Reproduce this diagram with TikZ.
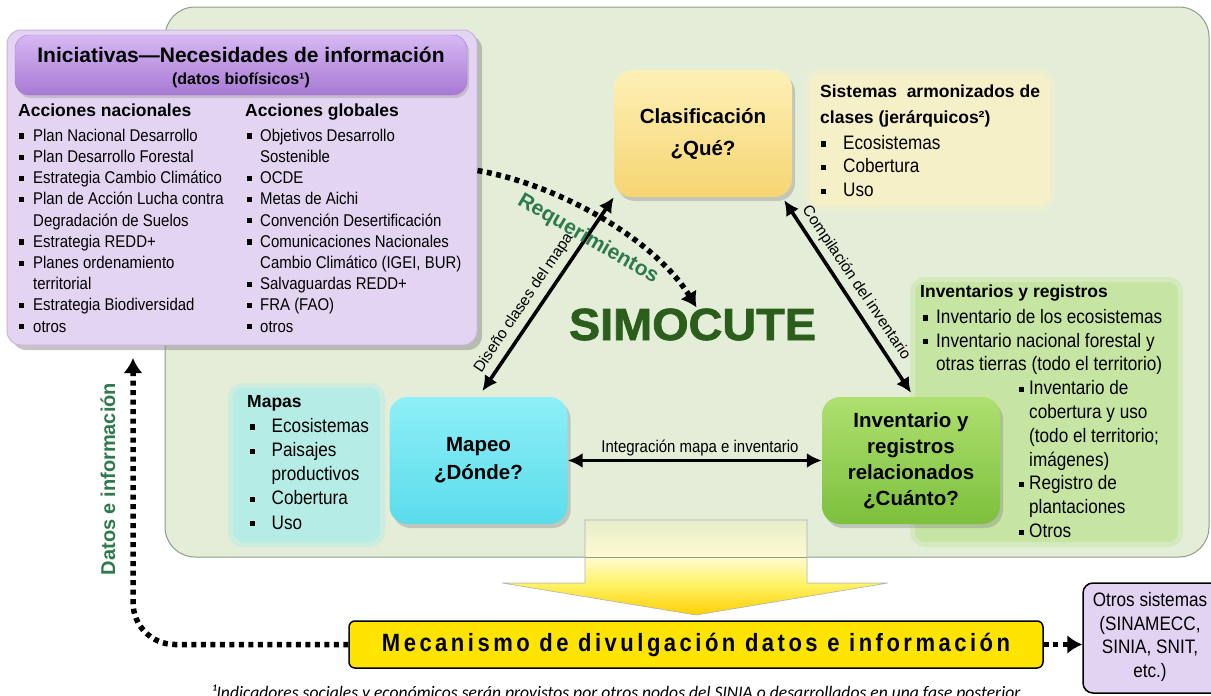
\documentclass[tikz,border=0pt]{standalone}
\usepackage{fontspec}
\setmainfont{Liberation Sans}
\newfontfamily\nar[FakeStretch=0.88]{Liberation Sans}
\newfontfamily\heavy[FakeBold=1.6]{Liberation Sans Bold}
\newfontfamily\footfam{Carlito}
\usetikzlibrary{arrows.meta,shadows,calc}

\definecolor{panel}{HTML}{E3EDD8}
\definecolor{panelline}{HTML}{8E9E86}
\definecolor{purp}{HTML}{E3D5F2}
\definecolor{purpline}{HTML}{C9B3E2}
\definecolor{hdrtop}{HTML}{D6B8F3}
\definecolor{hdrbot}{HTML}{A779D4}
\definecolor{clastop}{HTML}{FDF0B6}
\definecolor{clasbot}{HTML}{F6D572}
\definecolor{maptop}{HTML}{8EEFF7}
\definecolor{mapbot}{HTML}{5ADCEB}
\definecolor{invtop}{HTML}{AEE070}
\definecolor{invbot}{HTML}{7CC03C}
\definecolor{notey}{HTML}{F6F0C8}
\definecolor{notec}{HTML}{B5ECE5}
\definecolor{noteg}{HTML}{C6E5A3}
\definecolor{labgreen}{HTML}{2E7A4D}
\definecolor{simo}{HTML}{2B5D1B}
\definecolor{mecy}{HTML}{FFE400}
\definecolor{otrosf}{HTML}{E3D3F3}
\definecolor{ya}{HTML}{FFD000}
\definecolor{yb}{HTML}{FFF36A}
\definecolor{yc}{HTML}{FFFBD2}
\definecolor{yd}{HTML}{E6EDC8}

\pgfdeclareverticalshading{yarrow}{100bp}{color(0bp)=(ya); color(25bp)=(ya); color(41.8bp)=(yb); color(55.5bp)=(yc); color(75bp)=(yd); color(100bp)=(yd)}

\newcommand\sqb[2]{\makebox[#1][l]{\hspace{#2}\rule[2.6pt]{5.2pt}{5.2pt}}}
\newcommand\bodyA{\nar\fontsize{17}{21.2}\selectfont}
\newcommand\bodyB{\nar\fontsize{19.5}{23.7}\selectfont}
\newcommand\bodyC{\nar\fontsize{19.5}{24.2}\selectfont}
\newcommand\bodyD{\nar\fontsize{19.5}{23.8}\selectfont}
\newcommand\hdB{\normalfont\bfseries\fontsize{17.5}{21}\selectfont}

\begin{document}
\begin{tikzpicture}[x=1pt,y=-1pt,
  lst/.style={align=left, inner sep=0pt, anchor=north west},
  note/.style={rounded corners=10pt, line width=10pt, draw opacity=0.45},
  box/.style={rounded corners=18pt, minimum width=178pt, minimum height=127pt,
    font=\bfseries\fontsize{20.5}{26}\selectfont, align=center, inner sep=0pt,
    drop shadow={shadow xshift=3pt,shadow yshift=-4pt,opacity=0.35}},
  dbl/.style={line width=3.6pt, {Latex[length=15pt,width=15pt]}-{Latex[length=15pt,width=15pt]}},
  dotarr/.style={line width=5.5pt, dash pattern=on 5pt off 4.5pt, -{Latex[length=15pt,width=19pt]}},
  lbl/.style={font=\fontsize{15.5}{18}\selectfont, inner sep=0pt},
  glbl/.style={font=\bfseries\fontsize{21}{24}\selectfont, text=labgreen, inner sep=0pt}]
\useasboundingbox (0,0) rectangle (1211,696);
\fill[white] (0,0) rectangle (1211,696);

% main green panel
\node[draw=panelline, fill=panel, line width=1pt, rounded corners=30pt,
  minimum width=1044pt, minimum height=550pt, inner sep=0pt] (panel) at (687,282) {};

% big yellow arrow
\shade[shading=yarrow, draw=black!30, line width=0.6pt]
  (585,520) -- (807,520) -- (807,583) -- (888,583) -- (696,615) -- (502,583) -- (585,583) -- cycle;
\draw[panelline, line width=1pt] (585,557) -- (807,557);

% notes
\path[note, fill=notey, draw=notey] (810,74) rectangle (1050,206);
\path[note, fill=notec, draw=notec] (233,388) rectangle (380,542);
\path[note, fill=noteg, draw=noteg] (915,282) rectangle (1178,542);

% purple box
\node[fill=purp, draw=purpline, line width=1pt, rounded corners=14pt,
  minimum width=470pt, minimum height=315pt, inner sep=0pt,
  drop shadow={shadow xshift=5pt,shadow yshift=-5pt,opacity=0.45}] (purp) at (242,187.5) {};
\node[top color=hdrtop, bottom color=hdrbot, draw=hdrbot, rounded corners=14pt,
  minimum width=452pt, minimum height=60pt, inner sep=0pt,
  drop shadow={shadow xshift=2pt,shadow yshift=-3pt,opacity=0.3}] (hdr) at (241,65) {};
\node[font=\bfseries\fontsize{21}{24}\selectfont, anchor=base, inner sep=0pt] (tit) at (241,62) {Iniciativas—Necesidades de información};
\node[font=\bfseries\fontsize{16}{18}\selectfont, anchor=base, inner sep=0pt] (sub) at (241,84) {(datos biofísicos¹)};

\node[lst, font=\bodyA] (c1) at (18,101.16) {\strut{\hdB Acciones nacionales}\\[3.8pt]
\sqb{15pt}{1pt}Plan Nacional Desarrollo\\
\sqb{15pt}{1pt}Plan Desarrollo Forestal\\
\sqb{15pt}{1pt}Estrategia Cambio Climático\\
\sqb{15pt}{1pt}Plan de Acción Lucha contra\\
\hspace*{15pt}Degradación de Suelos\\
\sqb{15pt}{1pt}Estrategia REDD+\\
\sqb{15pt}{1pt}Planes ordenamiento\\
\hspace*{15pt}territorial\\
\sqb{15pt}{1pt}Estrategia Biodiversidad\\
\sqb{15pt}{1pt}otros};

\node[lst, font=\bodyA] (c2) at (245,101.16) {\strut{\hdB Acciones globales}\\[3.8pt]
\sqb{15pt}{2pt}Objetivos Desarrollo\\
\hspace*{15pt}Sostenible\\
\sqb{15pt}{2pt}OCDE\\
\sqb{15pt}{2pt}Metas de Aichi\\
\sqb{15pt}{2pt}Convención Desertificación\\
\sqb{15pt}{2pt}Comunicaciones Nacionales\\
\hspace*{15pt}Cambio Climático (IGEI, BUR)\\
\sqb{15pt}{2pt}Salvaguardas REDD+\\
\sqb{15pt}{2pt}FRA (FAO)\\
\sqb{15pt}{2pt}otros};

% sistemas note text
\node[lst, font=\bfseries\fontsize{17.5}{26}\selectfont] (sish) at (820,78.8) {\strut Sistemas\ \ armonizados de\\clases (jerárquicos²)};
\node[lst, font=\bodyB] (sisl) at (820,132.4) {\strut\sqb{23pt}{1pt}Ecosistemas\\
\sqb{23pt}{1pt}Cobertura\\
\sqb{23pt}{1pt}Uso};

% mapas note text
\node[lst, font=\bodyC] (mapl) at (247,390.06) {\strut{\hdB Mapas}\\[0.8pt]
\sqb{24.5pt}{3pt}Ecosistemas\\
\sqb{24.5pt}{3pt}Paisajes\\
\hspace*{24.5pt}productivos\\
\sqb{24.5pt}{3pt}Cobertura\\
\sqb{24.5pt}{3pt}Uso};

% inventarios note text
\node[lst, font=\bodyD] (invl) at (920,280.34) {\strut{\hdB Inventarios y registros}\\[2.2pt]
\sqb{16pt}{2.5pt}Inventario de los ecosistemas\\
\sqb{16pt}{2.5pt}Inventario nacional forestal y\\
\hspace*{16pt}otras tierras (todo el territorio)\\
\hspace*{99pt}\sqb{10pt}{0pt}Inventario de\\
\hspace*{109pt}cobertura y uso\\
\hspace*{109pt}(todo el territorio;\\
\hspace*{109pt}imágenes)\\
\hspace*{99pt}\sqb{10pt}{0pt}Registro de\\
\hspace*{109pt}plantaciones\\
\hspace*{99pt}\sqb{10pt}{0pt}Otros};

% main boxes
\node[box, top color=clastop, bottom color=clasbot] (clas) at (703,133.5) {Clasificación\\[6pt]¿Qué?};
\node[box, top color=maptop, bottom color=mapbot] (mapeo) at (478.5,460.5) {Mapeo\\[2pt]¿Dónde?};
\node[box, top color=invtop, bottom color=invbot] (inv) at (911,460.5) {Inventario y\\registros\\relacionados\\¿Cuánto?};

% SIMOCUTE
\node[font=\heavy\fontsize{45}{50}\selectfont, text=simo, inner sep=0pt, anchor=base] (simoc) at (692.5,340) {\scalebox{1.04}[1]{SIMOCUTE}};

% connectors
\draw[dbl, shorten <=7pt] (mapeo.north) -- (clas.south west);
\draw[dbl] ([xshift=-8pt,yshift=-3pt]clas.south east) -- ([yshift=4pt]inv.north);
\draw[dbl] (mapeo.east) -- (inv.west);
\draw[dotarr] ([yshift=17pt]purp.east) .. controls (560,185) and (655,240) .. ([xshift=4pt,yshift=1pt]simoc.north);

% labels on connectors
\node[lbl, rotate=56] (dis) at (524,303) {Diseño clases del mapa};
\node[lbl, rotate=-56] (comp) at (856,283) {Compilación del inventario};
\node[lbl, font=\nar\fontsize{17}{20}\selectfont, anchor=base] (integ) at (700,452) {Integración mapa e inventario};
\node[glbl, rotate=-30] (req) at (588,239) {Requerimientos};

% bottom mechanism
\node[draw=black, line width=1.5pt, fill=mecy, rounded corners=6pt, minimum width=694pt,
  minimum height=47pt, inner sep=0pt] (mec) at (696,644.5) {};
\node[font=\nar\bfseries\addfontfeature{LetterSpace=14}\fontsize{25}{28}\selectfont, inner sep=0pt] (mect) at (696,645) {Mecanismo de divulgación datos e información};

\node[draw=black, line width=1.5pt, fill=otrosf, rounded corners=10pt, minimum width=142pt,
  minimum height=110pt, inner sep=0pt] (otros) at (1154,638) {};
\node[font=\bodyB, align=center, inner sep=0pt] (otrost) at (1150,637) {Otros sistemas\\(SINAMECC,\\SINIA, SNIT,\\etc.)};

\coordinate (dtip) at (133,358);
\draw[dotarr, rounded corners=42pt] (mec.west) -| (dtip);
\draw[dotarr] (mec.east) -- (mec.east -| otros.west);
\node[glbl, font=\bfseries\fontsize{20}{24}\selectfont, rotate=90] (datlab) at (108,479) {Datos e información};

% footnote
\node[font=\footfam\itshape\fontsize{17.6}{19}\selectfont, anchor=base west, inner sep=0pt] (fn) at (212,698) {¹Indicadores sociales y económicos serán provistos por otros nodos del SINIA o desarrollados en una fase posterior};
\end{tikzpicture}
\end{document}
